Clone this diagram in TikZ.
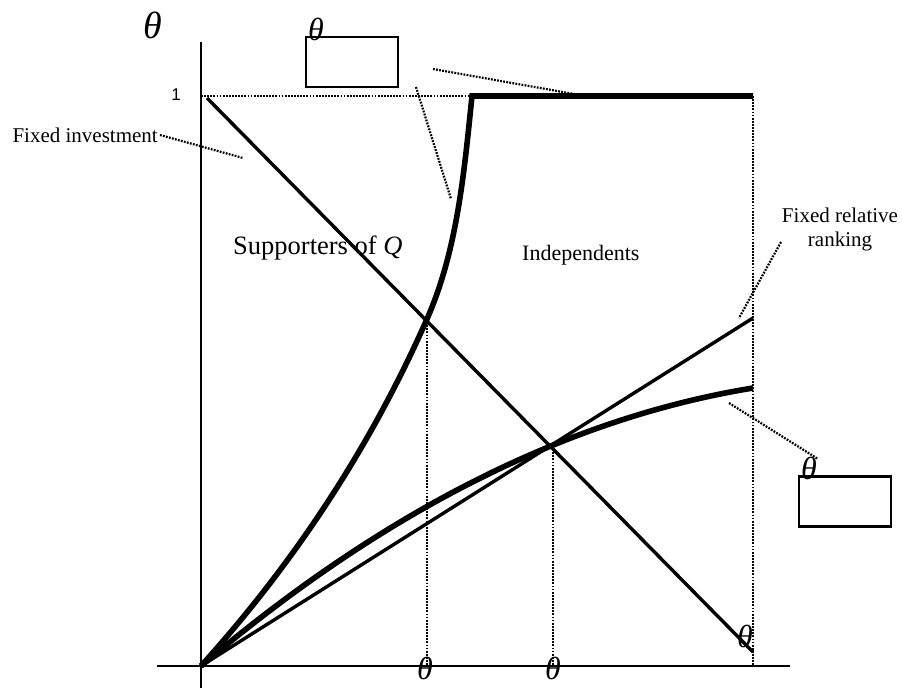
\documentclass[tikz,border=0pt]{standalone}
\usepackage{fontspec}
\setmainfont{Liberation Serif}
\newfontfamily\arialfont{Liberation Sans}
\begin{document}
\begin{tikzpicture}[x=1pt,y=-1pt,
  axisline/.style={line width=2.4pt},
  medline/.style={line width=3.4pt},
  thickline/.style={line width=5.6pt, line join=miter},
  dotline/.style={line width=2.2pt, dash pattern=on 1.8pt off 1.3pt},
  lbl/.style={font=\fontsize{21}{24}\selectfont, inner sep=0pt},
  thlbl/.style={font=\fontsize{32}{34}\selectfont\itshape, inner sep=0pt},
  boxlbl/.style={draw, line width=2.2pt, minimum width=92pt, minimum height=50pt, inner sep=0pt}]
\useasboundingbox (0,0) rectangle (902,688);
% coordinates
\coordinate (ytop) at (201,42);
\coordinate (ybot) at (201,688);
\coordinate (xl) at (157,666);
\coordinate (xr) at (790,666);
\coordinate (O) at (201,666);
\coordinate (one) at (201,96);
\coordinate (corner) at (472,96);
\coordinate (tr) at (753,96);
\coordinate (br) at (753,666);
\coordinate (d0) at (207,98);
\coordinate (d1) at (753,652);
\coordinate (A) at (427,319);
\coordinate (B) at (553,446);
\coordinate (Ab) at (427,666);
\coordinate (Bb) at (553,666);
\coordinate (r1) at (753,318);
\coordinate (c1) at (753,388);
% axes
\draw[axisline] (ytop) -- (ybot);
\draw[axisline] (xl) -- (xr);
% dotted guides
\draw[dotline] (one) -- (corner);
\draw[dotline] (tr) -- (br);
\draw[dotline] (A) -- (Ab);
\draw[dotline] (B) -- (Bb);
% fixed investment diagonal
\draw[medline] (d0) -- (d1);
% fixed relative ranking line
\draw[medline] (O) -- (r1);
% concave thick curve
\draw[thickline] (O) .. controls (385,510) and (569,418) .. (c1);
% steep thick curve and top
\draw[thickline] (O) .. controls (295,562) and (371,446) .. (A)
  .. controls (457,251) and (464,174) .. (corner) -- (tr);
% labels
\node[font=\arialfont\fontsize{17}{19}\selectfont, inner sep=0pt] (lone) at (176,95) {1};
\node[thlbl, font=\fontsize{38}{40}\selectfont\itshape] (thy) at (153,25) {θ};
\node[thlbl] (thx) at (745,636) {θ};
\node[thlbl] (th1) at (425,668) {θ};
\node[thlbl] (th2) at (553,668) {θ};
\node[boxlbl] (box1) at (352,62) {};
\node[thlbl] (tb1) at (316,29) {θ};
\node[boxlbl] (box2) at (845,501.5) {};
\node[thlbl] (tb2) at (809,468) {θ};
\node[lbl, anchor=east] (fi) at (158,135) {Fixed investment};
\node[lbl, align=center] (frr) at (840,229) {Fixed relative\\ranking};
\node[font=\fontsize{26.5}{30}\selectfont, inner sep=0pt, anchor=west] (sup) at (233,248) {Supporters of \textit{Q}};
\node[font=\fontsize{22}{26}\selectfont, inner sep=0pt, anchor=west] (ind) at (522,255) {Independents};
% leaders
\coordinate (fiA) at (160,135);
\coordinate (fiB) at (243,158);
\draw[dotline] (fiA) -- (fiB);
\coordinate (l1a) at (433,69);
\coordinate (l1b) at (574,94);
\draw[dotline] (l1a) -- (l1b);
\coordinate (l2a) at (416,87);
\coordinate (l2b) at (451,199);
\draw[dotline] (l2a) -- (l2b);
\coordinate (l3a) at (781,242);
\coordinate (l3b) at (739,318);
\draw[dotline] (l3a) -- (l3b);
\coordinate (l4a) at (729,403);
\coordinate (l4b) at (818,459);
\draw[dotline] (l4a) -- (l4b);
\end{tikzpicture}
\end{document}
